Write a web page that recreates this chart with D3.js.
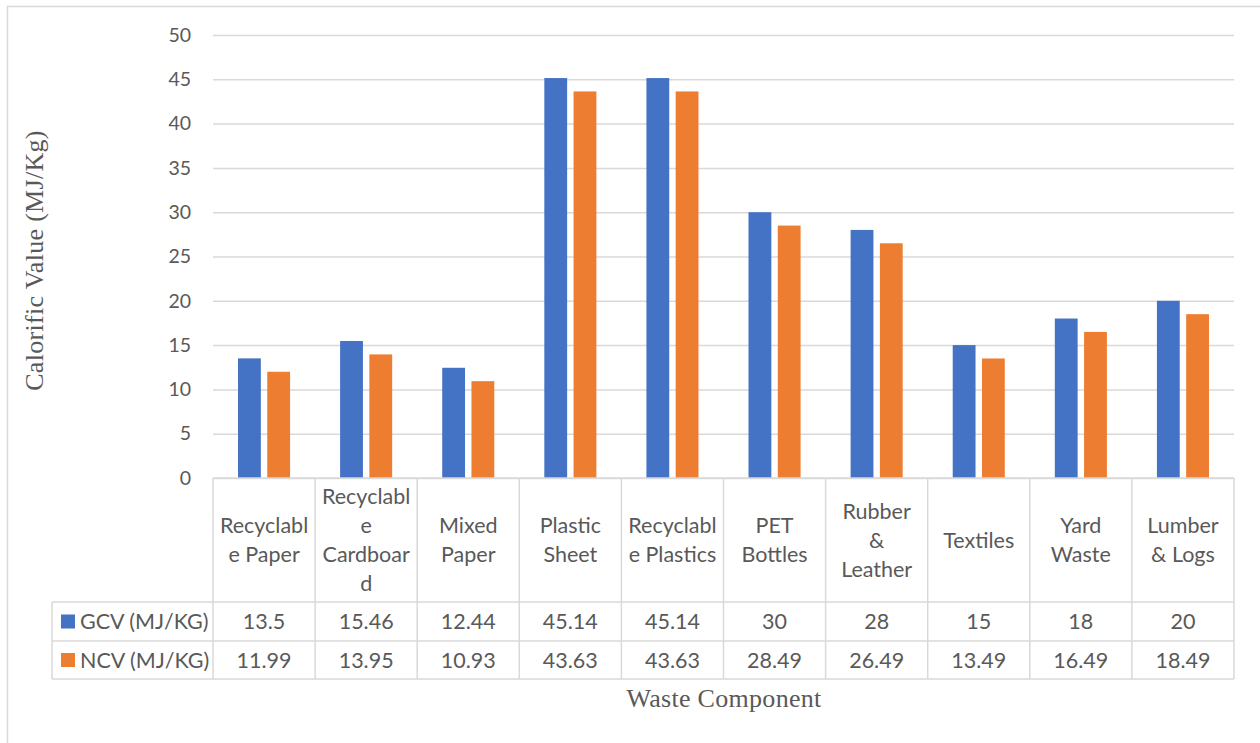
<!DOCTYPE html>
<html>
<head>
<meta charset="utf-8">
<script src="https://cdn.jsdelivr.net/npm/d3@7"></script>
<style>
  html, body { margin: 0; padding: 0; background: #fff; }
  svg { display: block; }
</style>
</head>
<body>
<svg id="chart" width="1260" height="743"></svg>
<script>
// Waste components and their wrapped header lines in the data table
const categories = ["Recyclable Paper", "Recyclable Cardboard", "Mixed Paper", "Plastic Sheet",
  "Recyclable Plastics", "PET Bottles", "Rubber & Leather", "Textiles", "Yard Waste", "Lumber & Logs"];
const categoryLines = [
  ["Recyclabl", "e Paper"], ["Recyclabl", "e", "Cardboar", "d"], ["Mixed", "Paper"],
  ["Plastic", "Sheet"], ["Recyclabl", "e Plastics"], ["PET", "Bottles"],
  ["Rubber", "&", "Leather"], ["Textiles"], ["Yard", "Waste"], ["Lumber", "& Logs"]
];
const seriesNames = ["GCV (MJ/KG)", "NCV (MJ/KG)"];
const gcvValues = [13.5, 15.46, 12.44, 45.14, 45.14, 30, 28, 15, 18, 20];
const ncvValues = [11.99, 13.95, 10.93, 43.63, 43.63, 28.49, 26.49, 13.49, 16.49, 18.49];
const yTicks = [0, 5, 10, 15, 20, 25, 30, 35, 40, 45, 50];
const colors = ["#4472C4", "#ED7D31"];

const series = [gcvValues, ncvValues];

const svg = d3.select("#chart");
const font = "Lato, 'Open Sans', sans-serif";
const serif = "'Liberation Serif', 'Times New Roman', serif";
const textColor = "#595959";
const gridColor = "#d9d9d9";
const tableFontSize = 21.5;

// Chart frame
svg.append("path")
  .attr("d", "M7.5,743 L7.5,6.5 L1260,6.5")
  .attr("fill", "none").attr("stroke", gridColor).attr("stroke-width", 1.5);

const plot = { left: 213, right: 1234, top: 35, bottom: 478 };
const table = { left: 52, headerBottom: 602, row1Bottom: 641, row2Bottom: 679 };

const y = d3.scaleLinear().domain([0, 50]).range([plot.bottom, plot.top]);
const x = d3.scaleBand().domain(categories).range([plot.left, plot.right])
  .paddingInner(0.49).paddingOuter(0.245);
const step = x.step();
const xSub = d3.scaleBand().domain(seriesNames).range([0, x.bandwidth()]).paddingInner(0.22);

// Gridlines and value ticks
const yAxis = d3.axisLeft(y).tickValues(yTicks).tickSize(-(plot.right - plot.left)).tickPadding(22);
const gAxis = svg.append("g").attr("transform", `translate(${plot.left},0)`).call(yAxis);
gAxis.select(".domain").remove();
gAxis.selectAll(".tick line").attr("stroke", gridColor).attr("stroke-width", 1.5);
gAxis.selectAll(".tick text")
  .attr("fill", textColor).attr("font-family", font).attr("font-size", 19.5);

// Bars
const groups = svg.append("g").selectAll("g")
  .data(categories).join("g")
  .attr("transform", d => `translate(${x(d)},0)`);
groups.selectAll("rect")
  .data((d, i) => series.map((s, k) => ({ key: seriesNames[k], value: s[i], k })))
  .join("rect")
  .attr("x", d => xSub(d.key))
  .attr("width", xSub.bandwidth())
  .attr("y", d => y(d.value))
  .attr("height", d => y(0) - y(d.value))
  .attr("fill", d => colors[d.k]);

// Data table grid
const tg = svg.append("g").attr("stroke", gridColor).attr("stroke-width", 1.5).attr("fill", "none");
tg.append("line").attr("x1", plot.left).attr("x2", plot.right).attr("y1", plot.bottom).attr("y2", plot.bottom);
[table.headerBottom, table.row1Bottom, table.row2Bottom].forEach(yy => {
  tg.append("line").attr("x1", table.left).attr("x2", plot.right).attr("y1", yy).attr("y2", yy);
});
tg.append("line").attr("x1", table.left).attr("x2", table.left)
  .attr("y1", table.headerBottom).attr("y2", table.row2Bottom);
d3.range(categories.length + 1).forEach(i => {
  const xx = plot.left + i * step;
  tg.append("line").attr("x1", xx).attr("x2", xx).attr("y1", plot.bottom).attr("y2", table.row2Bottom);
});

// Header labels
const lineH = 29;
const headerMid = (plot.bottom + table.headerBottom) / 2;
categories.forEach((c, i) => {
  const lines = categoryLines[i];
  const cx = x(c) + x.bandwidth() / 2;
  const t = svg.append("text")
    .attr("text-anchor", "middle").attr("fill", textColor)
    .attr("font-family", font).attr("font-size", tableFontSize);
  lines.forEach((ln, j) => {
    t.append("tspan").attr("x", cx)
      .attr("y", headerMid + (j - (lines.length - 1) / 2) * lineH)
      .attr("dy", "0.35em").text(ln);
  });
});

// Value rows with legend keys
const rowMids = [(table.headerBottom + table.row1Bottom) / 2, (table.row1Bottom + table.row2Bottom) / 2];
series.forEach((s, k) => {
  const ym = rowMids[k];
  svg.append("rect").attr("x", 61).attr("y", ym - 7).attr("width", 14).attr("height", 14).attr("fill", colors[k]);
  svg.append("text").attr("x", 80).attr("y", ym).attr("dy", "0.35em")
    .attr("fill", textColor).attr("font-family", font).attr("font-size", tableFontSize)
    .text(seriesNames[k]);
  categories.forEach((c, i) => {
    svg.append("text").attr("x", x(c) + x.bandwidth() / 2).attr("y", ym).attr("dy", "0.35em")
      .attr("text-anchor", "middle").attr("fill", textColor)
      .attr("font-family", font).attr("font-size", tableFontSize)
      .text(s[i]);
  });
});

// Axis titles
svg.append("text")
  .attr("transform", `translate(43,${(plot.top + plot.bottom) / 2 + 4}) rotate(-90)`)
  .attr("text-anchor", "middle").attr("fill", textColor)
  .attr("font-family", serif).attr("font-size", 26).attr("letter-spacing", 0.3)
  .text("Calorific Value (MJ/Kg)");
svg.append("text")
  .attr("x", 724).attr("y", 707)
  .attr("text-anchor", "middle").attr("fill", textColor)
  .attr("font-family", serif).attr("font-size", 26).attr("letter-spacing", 0.3)
  .text("Waste Component");
</script>
</body>
</html>
